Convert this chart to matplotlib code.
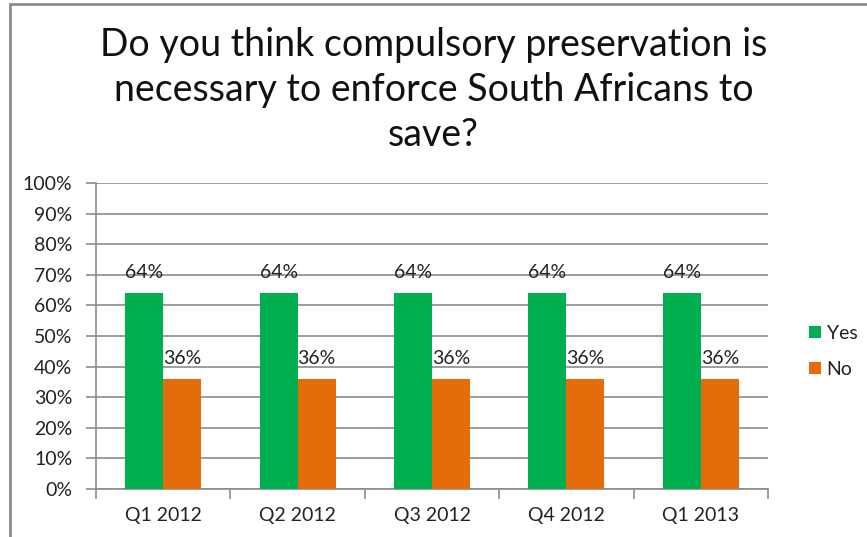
import matplotlib
matplotlib.use("Agg")
import matplotlib.pyplot as plt
from matplotlib.patches import Rectangle
import numpy as np

categories = ["Q1 2012", "Q2 2012", "Q3 2012", "Q4 2012", "Q1 2013"]
yes_values = [64, 64, 64, 64, 64]
no_values = [36, 36, 36, 36, 36]
series_names = ["Yes", "No"]
title_text = "Do you think compulsory preservation is\nnecessary to enforce South Africans to\nsave?"

GREEN = "#00B050"
ORANGE = "#E46C0A"
GRID = "#8C8C8C"
TEXT = "#222222"

plt.rcParams["font.family"] = ["Lato", "DejaVu Sans"]

W, H = 867, 537
fig = plt.figure(figsize=(W / 100, H / 100), dpi=100)
fig.patch.set_facecolor("white")

# outer chart frame
fig.patches.append(Rectangle((10 / W, -0.1), 1.2, 1.1 - 4 / H,
                             transform=fig.transFigure, fill=False,
                             edgecolor=GRID, linewidth=2))

ax = fig.add_axes([96 / W, 1 - 489 / H, (768 - 96) / W, (489 - 183) / H])

x = np.arange(len(categories))
w = 0.283
b1 = ax.bar(x - w / 2, yes_values, width=w, color=GREEN, label=series_names[0], zorder=3)
b2 = ax.bar(x + w / 2, no_values, width=w, color=ORANGE, label=series_names[1], zorder=3)

for bars, vals in ((b1, yes_values), (b2, no_values)):
    for rect, v in zip(bars, vals):
        ax.text(rect.get_x() + rect.get_width() / 2, v + 4.0, f"{v}%",
                ha="center", va="bottom", fontsize=14, color=TEXT, zorder=4)

ax.set_ylim(0, 100)
ax.set_xlim(-0.5, len(categories) - 0.5)
ax.set_yticks(np.arange(0, 101, 10))
ax.set_yticklabels([f"{t}%" for t in range(0, 101, 10)])
ax.yaxis.grid(True, color=GRID, linewidth=1.2, zorder=0)
ax.set_axisbelow(True)

ax.set_xticks(x)
ax.set_xticklabels(categories)
ax.set_xticks(np.arange(-0.5, len(categories), 1.0), minor=True)
ax.tick_params(axis="x", which="major", length=0, pad=13, labelsize=14, labelcolor=TEXT)
ax.tick_params(axis="x", which="minor", length=7, color=GRID, width=1.2)
ax.tick_params(axis="y", length=7, color=GRID, width=1.2, labelsize=14, pad=10,
               labelcolor=TEXT)

for s in ["top", "right"]:
    ax.spines[s].set_visible(False)
for s in ["left", "bottom"]:
    ax.spines[s].set_color(GRID)
    ax.spines[s].set_linewidth(1.2)

leg = ax.legend(loc="center left", bbox_to_anchor=(1.035, 0.45), frameon=False,
                fontsize=14, handlelength=0.6, handleheight=0.6, handletextpad=0.3,
                labelspacing=1.0)
for t in leg.get_texts():
    t.set_color(TEXT)

fig.text(0.5, 1 - 90 / H, title_text, ha="center", va="center",
         fontsize=27, linespacing=1.3, color="#111111")

fig.savefig("out.png", dpi=100)
